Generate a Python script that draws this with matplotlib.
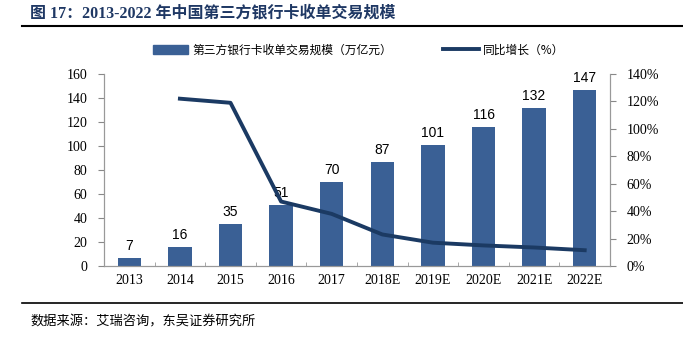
import matplotlib
matplotlib.use("Agg")
import matplotlib.pyplot as plt
from matplotlib.lines import Line2D
from matplotlib.patches import Patch

years = ["2013", "2014", "2015", "2016", "2017", "2018E", "2019E", "2020E", "2021E", "2022E"]
volume = [7, 16, 35, 51, 70, 87, 101, 116, 132, 147]
growth_years = ["2014", "2015", "2016", "2017", "2018E", "2019E", "2020E", "2021E", "2022E"]
growth = [122, 119, 47, 38, 23, 17, 15, 13.5, 11.5]
left_ticks = [0, 20, 40, 60, 80, 100, 120, 140, 160]
right_ticks = [0, 20, 40, 60, 80, 100, 120, 140]

bar_color = "#3A6095"
line_color = "#1B3A63"
cjk = ["Noto Sans CJK SC", "DejaVu Sans"]
serif = ["Liberation Serif", "DejaVu Serif"]

fig = plt.figure(figsize=(6.83, 3.38), dpi=100)
ax = fig.add_axes([104/683, 1-266/338, (610-104)/683, (266-74)/338])
ax2 = ax.twinx()

x = list(range(len(years)))
ax.bar(x, volume, width=0.46, color=bar_color, zorder=2)
for xi, v in zip(x, volume):
    ax.text(xi, v + 4, str(v), ha="center", va="bottom", fontsize=10,
            family=["Liberation Sans", "DejaVu Sans"], color="black")

gx = [years.index(g) for g in growth_years]
ax2.plot(gx, growth, color=line_color, lw=2.8, zorder=3)

ax.set_xlim(-0.5, len(years) - 0.5)
ax.set_ylim(0, 160)
ax2.set_ylim(0, 140)
ax.set_yticks(left_ticks)
ax.set_yticklabels([str(t) for t in left_ticks], family=serif, fontsize=10)
ax2.set_yticks(right_ticks)
ax2.set_yticklabels([f"{t}%" for t in right_ticks], family=serif, fontsize=10)
ax.set_xticks(x)
ax.set_xticklabels(years, family=serif, fontsize=10)
ax.tick_params(axis="x", length=0, pad=6)
ax.set_xticks([i + 0.5 for i in x[:-1]], minor=True)
ax.tick_params(axis="x", which="minor", direction="in", length=3, color="#999999")
ax.tick_params(axis="y", length=4, color="#888888", pad=8)
ax2.tick_params(axis="y", length=4, color="#888888", pad=8)

for a in (ax, ax2):
    a.spines["top"].set_visible(False)
    for s in ("left", "right", "bottom"):
        a.spines[s].set_color("#999999")
        a.spines[s].set_linewidth(0.8)
ax.patch.set_visible(False)

handles = [Patch(color=bar_color), Line2D([0], [0], color=line_color, lw=2.8)]
labels = ["第三方银行卡收单交易规模（万亿元）", "同比增长（%）"]
fig.legend(handles, labels, loc="center left", bbox_to_anchor=(142/683, 1-50/338),
           ncol=2, frameon=False, prop={"family": cjk, "size": 8.5},
           handlelength=3.0, handleheight=0.9, handletextpad=0.4, columnspacing=4.3)

fig.text(30/683, 1-13/338, "图 17：2013-2022 年中国第三方银行卡收单交易规模", fontsize=11.5,
         fontweight="bold", family=["Liberation Serif", "Noto Sans CJK SC"], color="#1F3864",
         va="center", ha="left")
fig.add_artist(Line2D([22/683, 1], [1-26/338, 1-26/338], color="black", lw=1.5))
fig.add_artist(Line2D([22/683, 1], [1-303/338, 1-303/338], color="black", lw=1.2))
fig.text(30/683, 1-322/338, "数据来源：艾瑞咨询，东吴证券研究所", fontsize=9.5,
         family=cjk, color="black", va="center", ha="left")

fig.savefig("out.png", dpi=100)
